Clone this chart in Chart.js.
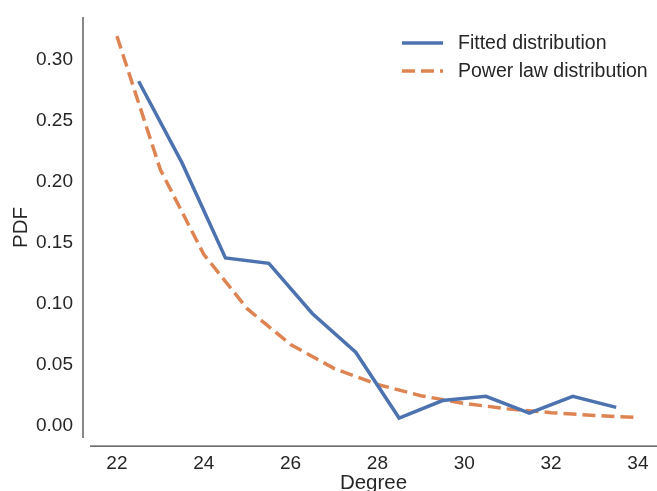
<!DOCTYPE html>
<html lang="en">
<head>
    <meta charset="UTF-8">
    <title>Degree PDF</title>
    <style>
        body { margin: 0; background: #ffffff; }
        #wrap { width: 657px; height: 491px; }
    </style>
</head>
<body>
    <div id="wrap">
        <canvas id="pdfChart" width="657" height="491"></canvas>
    </div>

    <script src="https://cdn.jsdelivr.net/npm/chart.js@4.4.0/dist/chart.umd.min.js"></script>
    <script>
        // data
        var fittedX = [22.5, 23.5, 24.5, 25.5, 26.5, 27.5, 28.5, 29.5, 30.5, 31.5, 32.5, 33.5];
        var fittedY = [0.281, 0.214, 0.136, 0.1316, 0.0905, 0.0587, 0.0047, 0.019, 0.0225, 0.0088, 0.0225, 0.0134];
        var powerX = [22, 23, 24, 25, 26, 27, 28, 29, 30, 31, 32, 33, 34];
        var powerY = [0.318, 0.2085, 0.139, 0.0944, 0.065, 0.0454, 0.0322, 0.023, 0.0167, 0.0122, 0.0091, 0.0068, 0.0051];
        var xTicks = [22, 24, 26, 28, 30, 32, 34];
        var yTicks = [0.00, 0.05, 0.10, 0.15, 0.20, 0.25, 0.30];
        var seriesNames = ['Fitted distribution', 'Power law distribution'];

        var BLUE = '#4c72b0';
        var ORANGE = '#dd8452';
        var TEXT = '#262626';
        var FONT = '"Liberation Sans", Arial, sans-serif';

        function toPoints(xs, ys) {
            return xs.map(function (x, i) { return { x: x, y: ys[i] }; });
        }

        // offset spines + legend, seaborn style
        var decor = {
            id: 'decor',
            afterDraw: function (chart) {
                var ctx = chart.ctx, a = chart.chartArea;
                ctx.save();
                ctx.strokeStyle = '#404040';
                ctx.lineWidth = 1.25;
                ctx.beginPath();
                ctx.moveTo(a.left - 7, a.top);
                ctx.lineTo(a.left - 7, a.bottom);
                ctx.moveTo(a.left, a.bottom + 8);
                ctx.lineTo(a.right, a.bottom + 8);
                ctx.stroke();

                // legend
                var colors = [BLUE, ORANGE];
                var dashes = [[], [13, 6]];
                ctx.font = '19.5px ' + FONT;
                ctx.textBaseline = 'middle';
                ctx.fillStyle = TEXT;
                ctx.lineWidth = 3.5;
                for (var i = 0; i < seriesNames.length; i++) {
                    var y = 43 + i * 28;
                    ctx.strokeStyle = colors[i];
                    ctx.setLineDash(dashes[i]);
                    ctx.beginPath();
                    ctx.moveTo(402, y);
                    ctx.lineTo(443, y);
                    ctx.stroke();
                    ctx.fillText(seriesNames[i], 458, y + 1);
                }
                ctx.restore();
            }
        };

        var chart = new Chart(document.getElementById('pdfChart'), {
            type: 'scatter',
            data: {
                datasets: [{
                    label: seriesNames[0],
                    data: toPoints(fittedX, fittedY),
                    showLine: true,
                    borderColor: BLUE,
                    borderWidth: 3.5,
                    pointRadius: 0,
                    tension: 0
                }, {
                    label: seriesNames[1],
                    data: toPoints(powerX, powerY),
                    showLine: true,
                    borderColor: ORANGE,
                    borderWidth: 3.5,
                    borderDash: [13, 6],
                    pointRadius: 0,
                    tension: 0
                }]
            },
            options: {
                responsive: false,
                animation: false,
                layout: { padding: { top: 17, right: 0, left: 0, bottom: 0 } },
                plugins: {
                    legend: { display: false },
                    tooltip: { enabled: false }
                },
                scales: {
                    x: {
                        type: 'linear',
                        min: 21.38,
                        max: 34.44,
                        grid: { display: false, drawTicks: false },
                        border: { display: false },
                        afterBuildTicks: function (s) { s.ticks = xTicks.map(function (v) { return { value: v }; }); },
                        afterFit: function (s) {
                            s.height = 53;
                            s.paddingLeft = 0;
                            s.paddingRight = 0;
                        },
                        ticks: {
                            color: TEXT,
                            font: { family: FONT, size: 19 },
                            padding: 14,
                            maxRotation: 0
                        },
                        title: {
                            display: true,
                            text: 'Degree',
                            color: TEXT,
                            font: { family: FONT, size: 20.5 },
                            padding: { top: 0, bottom: -5 }
                        }
                    },
                    y: {
                        min: -0.0117,
                        max: 0.3337,
                        grid: { display: false, drawTicks: false },
                        border: { display: false },
                        afterBuildTicks: function (s) { s.ticks = yTicks.map(function (v) { return { value: v }; }); },
                        afterFit: function (s) {
                            s.width = 90;
                            s.paddingTop = 0;
                            s.paddingBottom = 0;
                        },
                        ticks: {
                            color: TEXT,
                            font: { family: FONT, size: 19 },
                            padding: 17,
                            labelOffset: 2,
                            callback: function (v) { return v.toFixed(2); }
                        },
                        title: {
                            display: true,
                            text: 'PDF',
                            color: TEXT,
                            font: { family: FONT, size: 20.5 },
                            padding: 9
                        }
                    }
                }
            },
            plugins: [decor]
        });
    </script>
</body>
</html>
